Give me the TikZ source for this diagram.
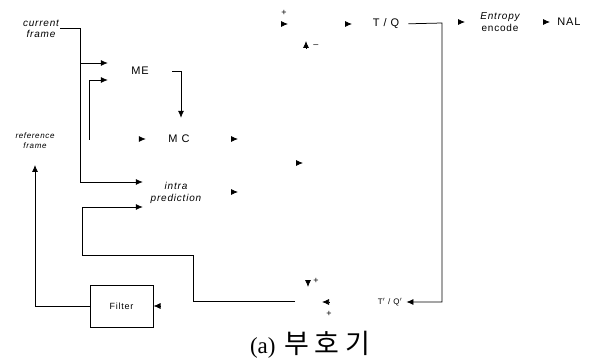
\documentclass[tikz,border=0pt]{standalone}
\usepackage{fontspec}
\setmainfont{Liberation Serif}
\setsansfont{Liberation Sans}
\newfontfamily\lblfont[LetterSpace=8]{Liberation Sans}
\newfontfamily\krfont[LetterSpace=20]{Noto Sans CJK KR}
\usetikzlibrary{arrows.meta,positioning}

\begin{document}
\begin{tikzpicture}[
    x=1pt, y=-1pt,
    lbl/.style={font=\lblfont\fontsize{11}{12}\selectfont, align=center, inner sep=1pt},
    ilbl/.style={lbl, font=\lblfont\itshape\fontsize{10}{11.5}\selectfont},
    ghost/.style={rectangle, draw=none, minimum width=64pt, minimum height=36pt, align=center},
    fbox/.style={rectangle, draw, line width=1pt, minimum width=63pt, minimum height=42pt, font=\lblfont\fontsize{9}{10}\selectfont},
    sgn/.style={font=\sffamily\fontsize{9}{9}\selectfont, inner sep=0pt},
    wire/.style={line width=0.75pt},
    conn/.style={wire, -{Latex[length=7pt,width=6pt]}},
    tipmark/.style={conn}
]
    \useasboundingbox (0,0) rectangle (590,361);

    % labels and (faded) blocks
    \node[ilbl] (cur) at (41,29) {current\\frame};
    \node[ilbl, font=\lblfont\itshape\fontsize{8}{10}\selectfont] (ref) at (35,141) {reference\\frame};
    \node[ghost, lbl] (me) at (140,71) {ME};
    \node[ghost, lbl, minimum width=66pt, minimum height=42pt] (mc) at (179,139) {M C};
    \node[ghost, ilbl, minimum width=66pt, minimum height=40pt] (intra) at (176,193) {intra\\prediction};
    \node[lbl] (tq) at (386,24) {T / Q};
    \node[lbl, font=\lblfont\fontsize{10}{11.5}\selectfont] (ent) at (500,22) {\itshape Entropy\\encode};
    \node[lbl] (nal) at (569,22) {NAL};
    \node[lbl, font=\lblfont\fontsize{8}{9}\selectfont] (itq) at (390,302) {T$'$ / Q$'$};
    \node[fbox] (filt) at (121.5,306) {Filter};
    \node[align=center] (cap) at (310,345) {\fontsize{23}{26}\selectfont (a)\hspace{9pt}{\krfont\fontsize{27}{28}\selectfont 부호기}};

    % bend points
    \coordinate (cfJ) at (80,28);
    \coordinate (cfA) at (80,63);
    \coordinate (cfB) at (80,182);
    \coordinate (rfA) at (89,140);
    \coordinate (rfB) at (89,80);
    \coordinate (meJ) at (181,71);
    \coordinate (lpA) at (295,301);
    \coordinate (lpB) at (193,301);
    \coordinate (lpC) at (193,255);
    \coordinate (lpD) at (82,255);
    \coordinate (lpE) at (82,207);
    \coordinate (rfTip) at (35,165);
    \coordinate (tqJ) at (442,23);

    % tips left without their lines
    \coordinate (mcOut) at (238,139);
    \coordinate (inOut) at (238,192);
    \coordinate (mid) at (303,163);
    \coordinate (sumA) at (288,24);
    \coordinate (sumB) at (306,41);
    \coordinate (tqIn) at (352,24);
    \coordinate (entIn) at (465,22);
    \coordinate (nalIn) at (550,22);
    \coordinate (recA) at (308,287);
    \coordinate (recB) at (322,302);

    \draw[conn] (cur.east |- cfJ) -- (cfJ) -- (cfB) -- (intra.west |- cfB);
    \draw[conn] (cfA) -- (me.west |- cfA);
    \draw[conn] (rfA) -- (rfB) -- (me.west |- rfB);
    \draw[conn] (me.east) -- (meJ) -- (meJ |- mc.north);
    \draw[conn] (lpA) -- (lpB) -- (lpC) -- (lpD) -- (lpE) -- (intra.west |- lpE);
    \draw[conn] (filt.west) -| (rfTip);
    \draw[conn, shorten <=8pt, shorten >=3pt] (tq.east) -- (tqJ) -- (tqJ |- itq) -- (itq.east);

    \draw[tipmark] (mc.west) ++(-7,0) -- (mc.west);
    \draw[tipmark] (mcOut) ++(-7,0) -- (mcOut);
    \draw[tipmark] (inOut) ++(-7,0) -- (inOut);
    \draw[tipmark] (mid) ++(-7,0) -- (mid);
    \draw[tipmark] (sumA) ++(-7,0) -- (sumA);
    \draw[tipmark] (sumB) ++(0,7) -- (sumB);
    \draw[tipmark] (tqIn) ++(-7,0) -- (tqIn);
    \draw[tipmark] (entIn) ++(-7,0) -- (entIn);
    \draw[tipmark] (nalIn) ++(-7,0) -- (nalIn);
    \draw[tipmark] (recA) ++(0,-7) -- (recA);
    \draw[tipmark] (recB) ++(7,0) -- (recB);
    \draw[tipmark] (filt.east) ++(7,0) -- (filt.east);

    \node[sgn] at (284,13) {+};
    \node[sgn] at (316,46) {\textendash};
    \node[sgn] at (316,281) {+};
    \node[sgn] at (329,314) {+};
\end{tikzpicture}
\end{document}
